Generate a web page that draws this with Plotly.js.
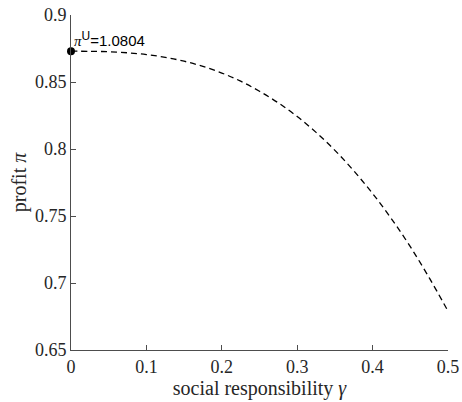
<!DOCTYPE html>
<html>
<head>
<meta charset="utf-8">
<script src="https://cdn.plot.ly/plotly-3.0.1.min.js"></script>
<style>html,body{margin:0;padding:0;background:#fff;}#chart{width:462px;height:402px;}</style>
</head>
<body>
<div id="chart"></div>
<script>
const gamma = [0,0.025,0.05,0.075,0.1,0.125,0.15,0.175,0.2,0.225,0.25,0.275,0.3,0.325,0.35,0.375,0.4,0.425,0.45,0.475,0.5];
const profit = [0.873,0.8729,0.8726,0.8718,0.8705,0.8684,0.8655,0.8616,0.8567,0.8506,0.8431,0.8344,0.8242,0.8124,0.799,0.7837,0.7668,0.7479,0.7271,0.704,0.679];
const startX = [0];
const startY = [0.873];
const serif = '"Liberation Serif", "Times New Roman", serif';
const annText = '<span style="font-family:\'Liberation Serif\';font-style:italic;font-size:15px;color:#000">π</span><sup><span style="font-size:12px;color:#000">U</span></sup>=1.0804';
const xTitle = 'social responsibility <i>γ</i>';
const yTitle = 'profit <i>π</i>';

const traces = [
  {x: gamma, y: profit, mode: 'lines', type: 'scatter', line: {color: '#000', width: 1.3, dash: '6px,4px', shape: 'spline'}, hoverinfo: 'none'},
  {x: startX, y: startY, mode: 'markers', type: 'scatter', marker: {color: '#000', size: 8}, cliponaxis: false}
];
const axisCommon = {
  showline: true, linecolor: '#4d4d4d', linewidth: 1, mirror: false,
  ticks: 'inside', ticklen: 5, tickcolor: '#4d4d4d', tickwidth: 1,
  showgrid: false, zeroline: false,
  tickfont: {family: serif, size: 18, color: '#262626'}
};
const layout = {
  width: 462, height: 402,
  margin: {l: 71, r: 14, t: 15, b: 52},
  paper_bgcolor: '#fff', plot_bgcolor: '#fff',
  showlegend: false,
  xaxis: Object.assign({}, axisCommon, {range: [0, 0.5], dtick: 0.1, tick0: 0,
    title: {text: xTitle, font: {family: serif, size: 20, color: '#262626'}, standoff: 2}}),
  yaxis: Object.assign({}, axisCommon, {range: [0.65, 0.9], dtick: 0.05, tick0: 0.65,
    title: {text: yTitle, font: {family: serif, size: 20, color: '#262626'}, standoff: 2}}),
  annotations: [{x: startX[0], y: startY[0], xref: 'x', yref: 'y', text: annText, showarrow: false,
    xanchor: 'left', yanchor: 'bottom', xshift: 1, yshift: 0,
    font: {family: '"Liberation Sans", Arial, sans-serif', size: 15, color: '#000'}}]
};
Plotly.newPlot('chart', traces, layout, {displayModeBar: false, staticPlot: true});
</script>
</body>
</html>
